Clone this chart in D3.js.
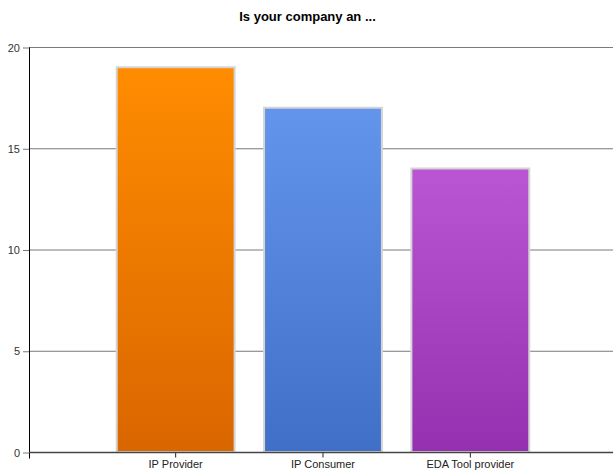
<!DOCTYPE html>
<html>
<head>
<meta charset="utf-8">
<script src="https://cdn.jsdelivr.net/npm/d3@7"></script>
<style>
  body { margin: 0; background: #fff; }
  text { font-family: "Liberation Sans", Arial, sans-serif; }
</style>
</head>
<body>
<div id="chart"></div>
<script>
// data
var categories = ["IP Provider", "IP Consumer", "EDA Tool provider"];
var counts = [19, 17, 14];
var yTicks = [0, 5, 10, 15, 20];
var topColors = ["#ff8c00", "#6495ed", "#ba55d3"];
var bottomColors = ["#da6600", "#3f6fc6", "#9530b0"];

var width = 613, height = 472;
var plotLeft = 29, plotRight = 613, plotTop = 47, plotBottom = 452;

var svg = d3.select("#chart").append("svg")
  .attr("width", width).attr("height", height);

var defs = svg.append("defs");
categories.forEach(function(c, i) {
  var g = defs.append("linearGradient").attr("id", "grad" + i)
    .attr("x1", 0).attr("y1", 0).attr("x2", 0).attr("y2", 1);
  g.append("stop").attr("offset", "0%").attr("stop-color", topColors[i]);
  g.append("stop").attr("offset", "100%").attr("stop-color", bottomColors[i]);
});

var x = d3.scaleBand().domain(categories).range([102, 544]).paddingInner(0.2).paddingOuter(0.1);
var y = d3.scaleLinear().domain([0, 20]).range([plotBottom, plotTop]);

// title
svg.append("text").attr("x", width / 2 + 1).attr("y", 21)
  .attr("text-anchor", "middle").style("font-weight", "bold").style("font-size", "13px")
  .attr("fill", "#000").text("Is your company an ...");

// gridlines
svg.append("g").selectAll("line").data(yTicks.filter(function(d) { return d > 0; })).enter()
  .append("line")
  .attr("x1", plotLeft).attr("x2", plotRight)
  .attr("y1", function(d) { return y(d) + 0.5; }).attr("y2", function(d) { return y(d) + 0.5; })
  .attr("stroke", "#7a7a7a").attr("stroke-width", 1);

// bars
svg.append("g").selectAll("rect").data(counts).enter().append("rect")
  .attr("x", function(d, i) { return x(categories[i]); })
  .attr("y", function(d) { return y(d); })
  .attr("width", x.bandwidth())
  .attr("height", function(d) { return plotBottom - y(d); })
  .attr("fill", function(d, i) { return "url(#grad" + i + ")"; })
  .attr("stroke", "#d4d4d4").attr("stroke-width", 2);

// y axis
var yAxis = svg.append("g").attr("transform", "translate(" + plotLeft + ",0.5)")
  .call(d3.axisLeft(y).tickValues(yTicks).tickSize(6).tickPadding(3).tickFormat(d3.format("d")));
yAxis.select(".domain").remove();
yAxis.append("line").attr("x1", 0.5).attr("x2", 0.5).attr("y1", plotTop).attr("y2", plotBottom + 6)
  .attr("stroke", "#000");
yAxis.selectAll(".tick line").attr("stroke", "#7a7a7a");
yAxis.selectAll("text").style("font-size", "11px").attr("fill", "#333");

// x axis
var xAxis = svg.append("g").attr("transform", "translate(0," + (plotBottom + 0.5) + ")")
  .call(d3.axisBottom(x).tickSize(5).tickPadding(3));
xAxis.select(".domain").remove();
xAxis.append("line").attr("x1", plotLeft).attr("x2", plotRight).attr("y1", 0).attr("y2", 0)
  .attr("stroke", "#444").attr("stroke-width", 1.5);
xAxis.selectAll(".tick line").attr("stroke", "#222");
xAxis.selectAll("text").style("font-size", "11px").attr("fill", "#222");
</script>
</body>
</html>
